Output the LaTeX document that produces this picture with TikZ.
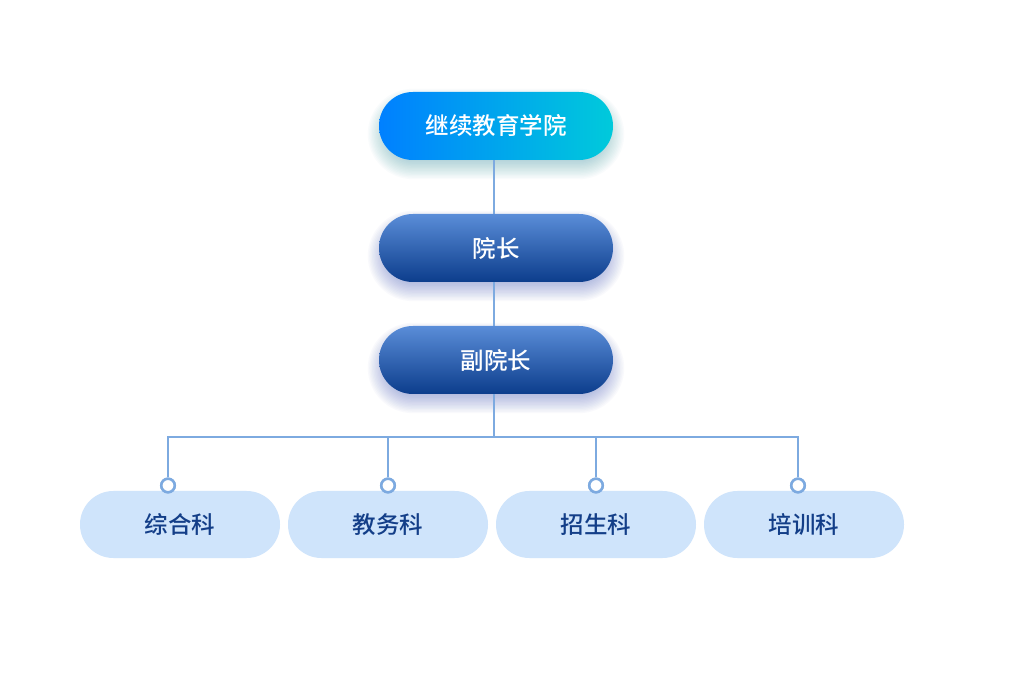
\documentclass[tikz,border=0pt]{standalone}
\usepackage{fontspec}
\newfontfamily\cjk{Noto Sans CJK SC Medium}
\definecolor{topL}{HTML}{0080FF}
\definecolor{topR}{HTML}{00CADB}
\definecolor{midT}{HTML}{5A8DD8}
\definecolor{midB}{HTML}{0C3D8C}
\definecolor{leaf}{HTML}{CFE4FB}
\definecolor{leaftext}{HTML}{133E88}
\definecolor{wire}{HTML}{7DAAE0}
\definecolor{shadowblue}{HTML}{2F45B0}
\definecolor{shadowteal}{HTML}{2F8F9F}
\newcommand\softshadow[3]{%
  \foreach \k in {0,...,13}{%
    \pgfmathsetmacro\hw{110+\k*1.4}%
    \pgfmathsetmacro\hh{27+\k*1.4}%
    \pgfmathsetmacro\rc{\hh*0.999}%
    \fill[#3, opacity=0.028, rounded corners=\rc pt] (#1-\hw,#2+8-\hh) rectangle (#1+\hw,#2+8+\hh);
  }%
}
\tikzset{
  pill/.style={rectangle, rounded corners=33.9pt, minimum width=234pt, minimum height=68pt,
    inner sep=0pt, text=white, font=\cjk\fontsize{23.5}{26}\selectfont},
  headbox/.style={pill, left color=topL, right color=topR},
  midbox/.style={pill, top color=midT, bottom color=midB},
  leafbox/.style={rectangle, rounded corners=33.4pt, minimum width=200pt, minimum height=67pt,
    inner sep=0pt, fill=leaf, text=leaftext, font=\cjk\fontsize{23.5}{26}\selectfont},
  wireline/.style={draw=wire, line width=2.8pt},
  dot/.style={circle, draw=wire, fill=white, line width=2.5pt, minimum size=13.5pt, inner sep=0pt},
}
\begin{document}
\begin{tikzpicture}[x=1pt, y=-1pt]
\useasboundingbox (0,0) rectangle (1018,692);
\fill[white] (0,0) rectangle (1018,692);

% soft shadows of the upper boxes
\softshadow{496}{126}{shadowteal}
\softshadow{496}{248}{shadowblue}
\softshadow{496}{360}{shadowblue}

% leaves
\node[leafbox] (k1) at (180,524.5) {综合科};
\node[leafbox] (k2) at (388,524.5) {教务科};
\node[leafbox] (k3) at (596,524.5) {招生科};
\node[leafbox] (k4) at (804,524.5) {培训科};

% connectors
\coordinate (bus) at (494,437);
\coordinate (c1) at (494,160);
\coordinate (c2) at (494,214);
\coordinate (c3) at (494,282);
\coordinate (c4) at (494,326);
\coordinate (c5) at (494,394);
\draw[wireline] (c1) -- (c2);
\draw[wireline] (c3) -- (c4);
\draw[wireline] (c5) -- (bus);

\node[dot] (d1) at (168,485.5) {};
\node[dot] (d2) at (388,485.5) {};
\node[dot] (d3) at (596,485.5) {};
\node[dot] (d4) at (798,485.5) {};
\draw[wireline, line join=miter] (d1) |- (bus);
\draw[wireline] (d2) |- (bus);
\draw[wireline] (d3) |- (bus);
\draw[wireline, line join=miter] (d4) |- (bus);
\node[dot] at (d1) {};
\node[dot] at (d2) {};
\node[dot] at (d3) {};
\node[dot] at (d4) {};

% upper boxes
\node[headbox] (top) at (496,126) {继续教育学院};
\node[midbox] (dean) at (496,248) {院长};
\node[midbox] (vice) at (496,360) {副院长};
\end{tikzpicture}
\end{document}
